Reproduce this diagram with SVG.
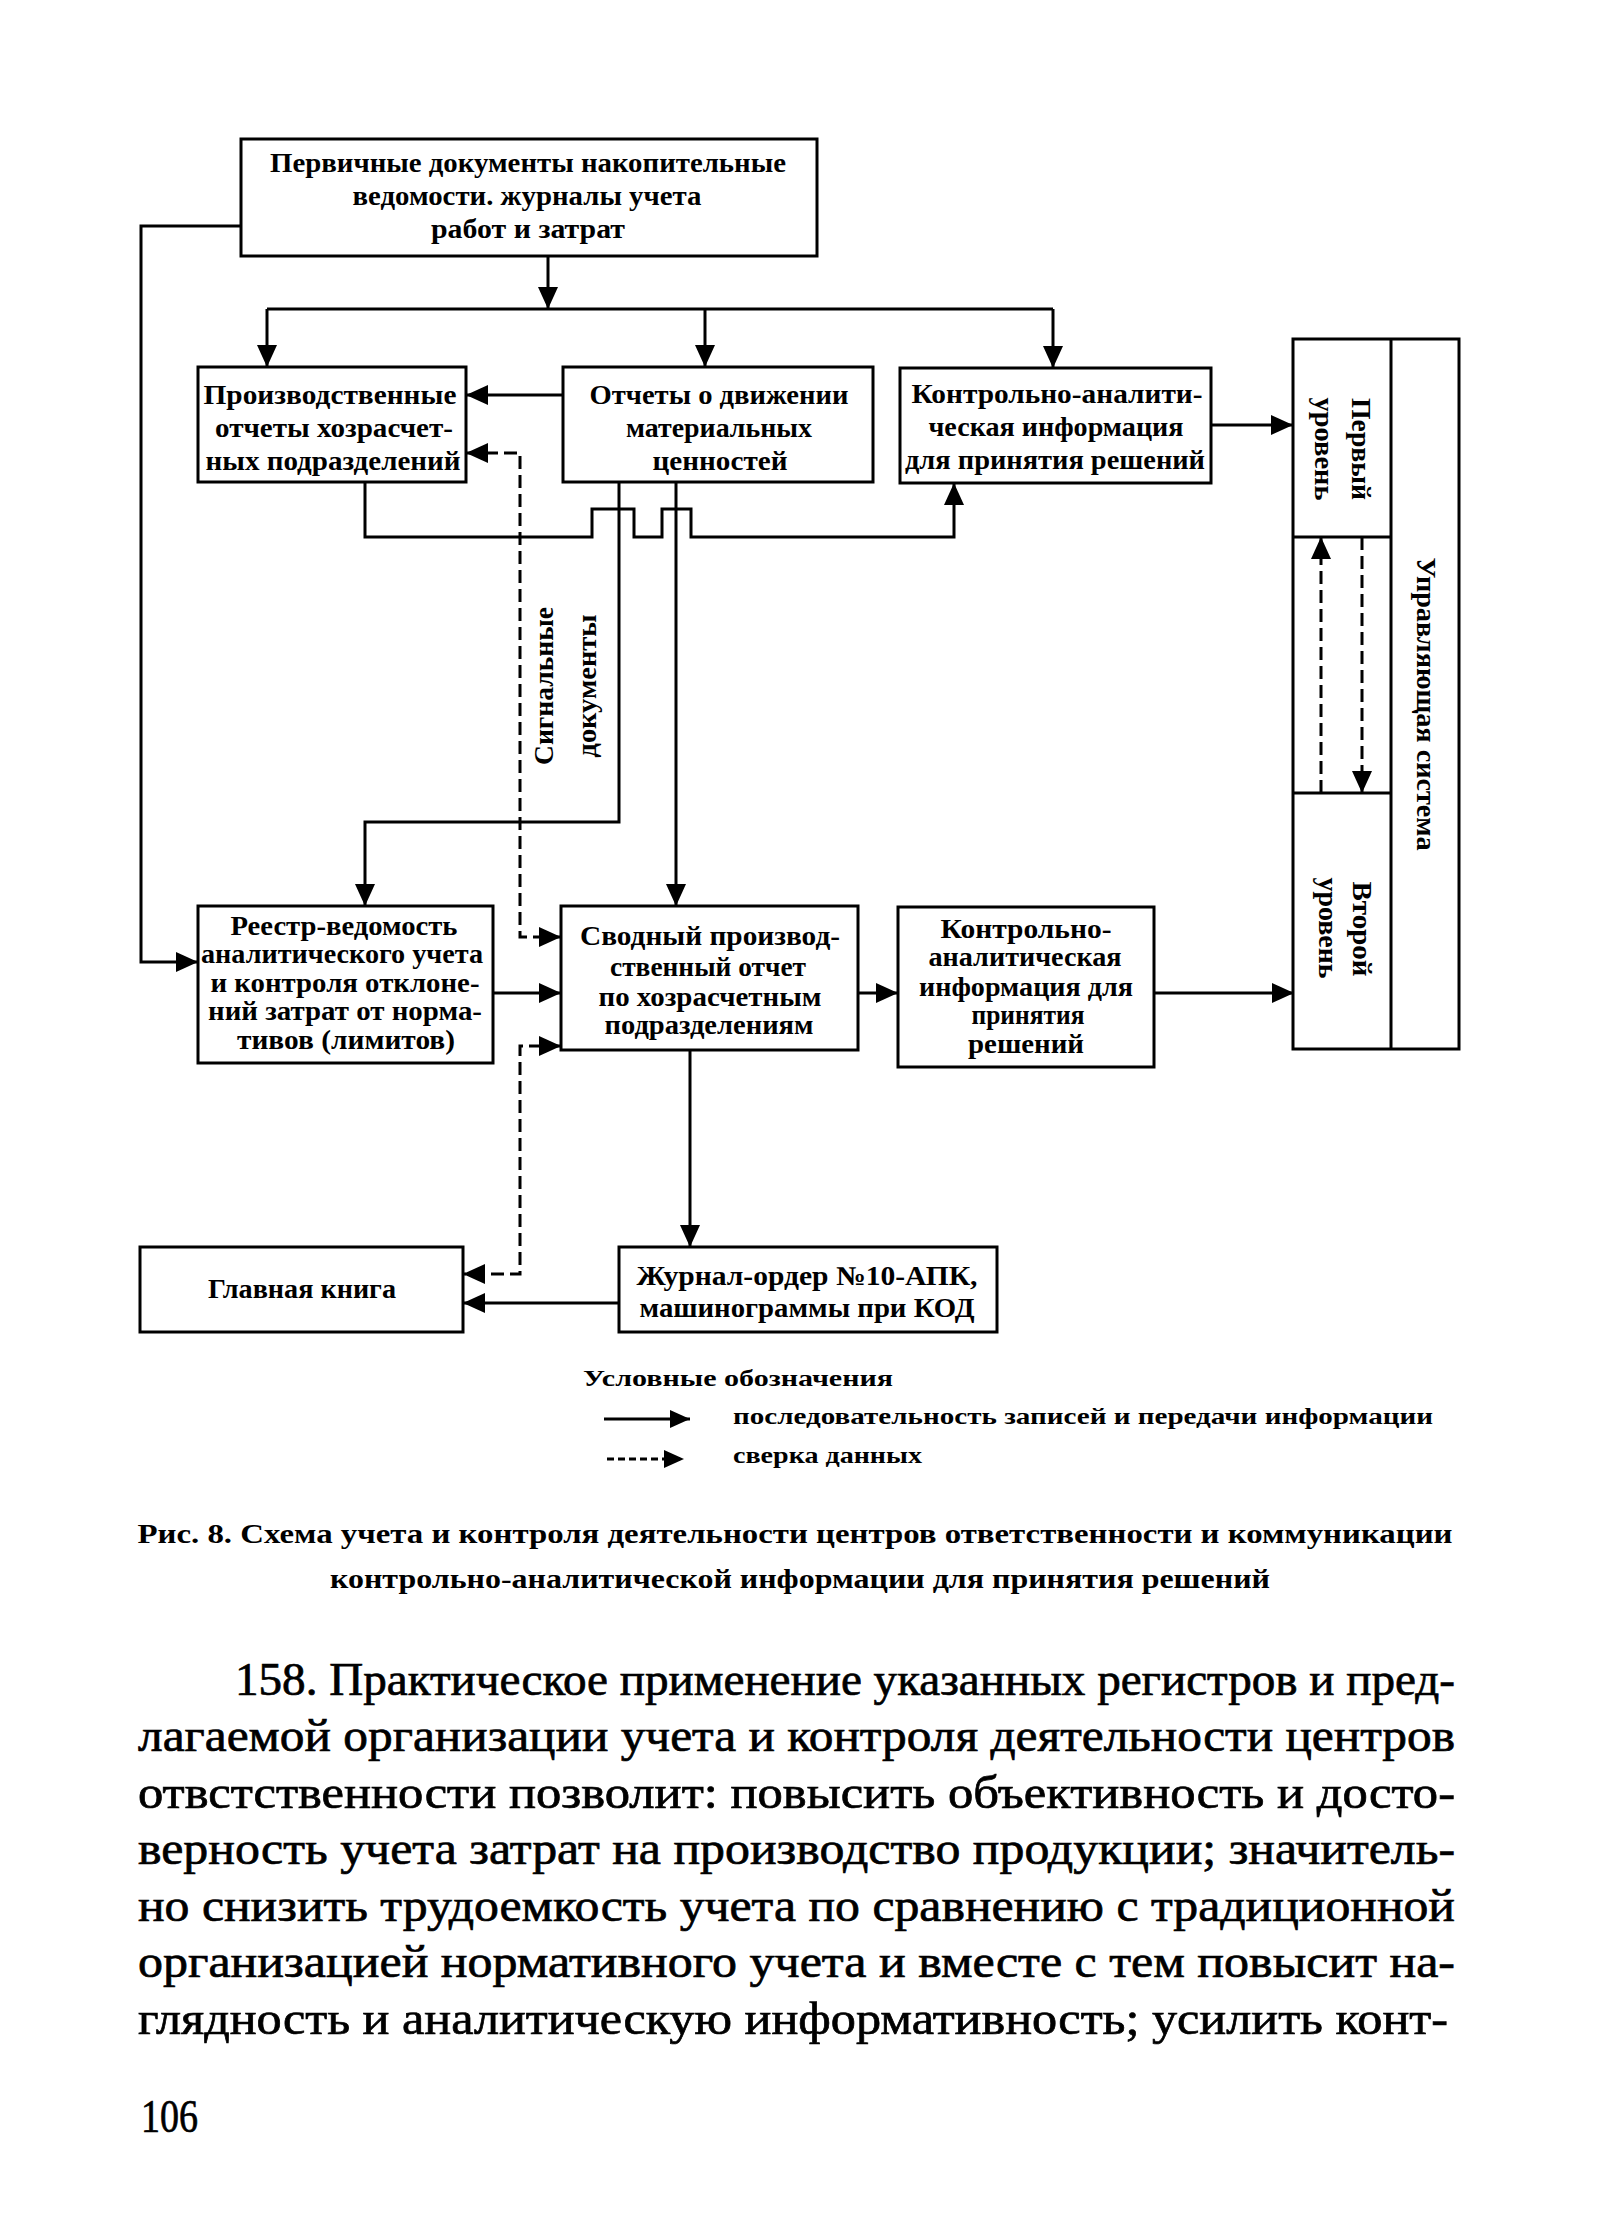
<svg xmlns="http://www.w3.org/2000/svg" width="1597" height="2224" viewBox="0 0 1597 2224">
<style>
.box{fill:none;stroke:#000;stroke-width:3}
.ln{fill:none;stroke:#000;stroke-width:3}
.dash{stroke-dasharray:13 6}
.t{font-family:"Liberation Serif",serif;font-weight:bold;font-size:27px;text-anchor:middle;fill:#000}
.lg{font-family:"Liberation Serif",serif;font-weight:bold;font-size:24px;fill:#000}
.cap{font-family:"Liberation Serif",serif;font-weight:bold;font-size:27px;text-anchor:middle;fill:#000}
.body{font-family:"Liberation Serif",serif;font-size:46px;fill:#000;stroke:#000;stroke-width:0.7}
</style>
<defs>
<marker id="ah" markerUnits="userSpaceOnUse" markerWidth="22" markerHeight="20" refX="22" refY="10" orient="auto-start-reverse" viewBox="0 0 22 20">
<path d="M0,0 L22,10 L0,20 z" fill="#000"/>
</marker>
<marker id="ahs" markerUnits="userSpaceOnUse" markerWidth="20" markerHeight="18" refX="20" refY="9" orient="auto" viewBox="0 0 20 18">
<path d="M0,0 L20,9 L0,18 z" fill="#000"/>
</marker>
</defs>
<rect x="0" y="0" width="1597" height="2224" fill="#fff"/>

<g id="connectors">
<path class="ln" d="M241,226 H141 V962 H198" marker-end="url(#ah)"/>
<path class="ln" d="M548,256 V309" marker-end="url(#ah)"/>
<path class="ln" d="M267,309 H1053"/>
<path class="ln" d="M267,309 V367" marker-end="url(#ah)"/>
<path class="ln" d="M705,309 V367" marker-end="url(#ah)"/>
<path class="ln" d="M1053,309 V368" marker-end="url(#ah)"/>
<path class="ln" d="M563,395 H466" marker-end="url(#ah)"/>
<path class="ln dash" d="M466,453 H520 V937 H561" marker-start="url(#ah)" marker-end="url(#ah)"/>
<path class="ln" d="M365,483 V537 H592 V509 H634 V537 H662 V509 H691 V537 H954 V483" marker-end="url(#ah)"/>
<path class="ln" d="M619,483 V822 H365 V906" marker-end="url(#ah)"/>
<path class="ln" d="M676,483 V906" marker-end="url(#ah)"/>
<path class="ln" d="M1211,425 H1293" marker-end="url(#ah)"/>
<path class="ln dash" d="M1321,793 V537" marker-end="url(#ah)"/>
<path class="ln dash" d="M1362,537 V793" marker-end="url(#ah)"/>
<path class="ln" d="M493,993 H561" marker-end="url(#ah)"/>
<path class="ln" d="M858,993 H898" marker-end="url(#ah)"/>
<path class="ln" d="M1154,993 H1294" marker-end="url(#ah)"/>
<path class="ln dash" d="M561,1046 H520 V1274 H463" marker-start="url(#ah)" marker-end="url(#ah)"/>
<path class="ln" d="M690,1050 V1247" marker-end="url(#ah)"/>
<path class="ln" d="M619,1303 H463" marker-end="url(#ah)"/>
</g>

<g id="n-primary">
<rect class="box" x="241" y="139" width="576" height="117"/>
<text class="t" x="528" y="172" textLength="516" lengthAdjust="spacingAndGlyphs">Первичные документы  накопительные</text>
<text class="t" x="527" y="205" textLength="349" lengthAdjust="spacingAndGlyphs">ведомости. журналы учета</text>
<text class="t" x="528" y="238" textLength="194" lengthAdjust="spacingAndGlyphs">работ и затрат</text>
</g>

<g id="n-proizv">
<rect class="box" x="198" y="367" width="268" height="115"/>
<text class="t" x="330" y="404" textLength="253" lengthAdjust="spacingAndGlyphs">Производственные</text>
<text class="t" x="334" y="437" textLength="238" lengthAdjust="spacingAndGlyphs">отчеты хозрасчет-</text>
<text class="t" x="333" y="470" textLength="255" lengthAdjust="spacingAndGlyphs">ных подразделений</text>
</g>

<g id="n-otchety">
<rect class="box" x="563" y="367" width="310" height="115"/>
<text class="t" x="719" y="404" textLength="259" lengthAdjust="spacingAndGlyphs">Отчеты о движении</text>
<text class="t" x="719" y="437" textLength="186" lengthAdjust="spacingAndGlyphs">материальных</text>
<text class="t" x="720" y="470" textLength="135" lengthAdjust="spacingAndGlyphs">ценностей</text>
</g>

<g id="n-kontr1">
<rect class="box" x="900" y="368" width="311" height="115"/>
<text class="t" x="1057" y="403" textLength="291" lengthAdjust="spacingAndGlyphs">Контрольно-аналити-</text>
<text class="t" x="1056" y="436" textLength="255" lengthAdjust="spacingAndGlyphs">ческая информация</text>
<text class="t" x="1055" y="469" textLength="300" lengthAdjust="spacingAndGlyphs">для принятия решений</text>
</g>

<g id="n-upravl">
<rect class="box" x="1293" y="339" width="166" height="710"/>
<line class="ln" x1="1391" y1="339" x2="1391" y2="1049"/>
<line class="ln" x1="1293" y1="537" x2="1391" y2="537"/>
<line class="ln" x1="1293" y1="793" x2="1391" y2="793"/>
<text class="t" transform="translate(1362,449) rotate(90)" x="0" y="10" textLength="102" lengthAdjust="spacingAndGlyphs">Первый</text>
<text class="t" transform="translate(1325,449) rotate(90)" x="0" y="10" textLength="103" lengthAdjust="spacingAndGlyphs">уровень</text>
<text class="t" transform="translate(1363,929) rotate(90)" x="0" y="10" textLength="95" lengthAdjust="spacingAndGlyphs">Второй</text>
<text class="t" transform="translate(1329,928) rotate(90)" x="0" y="10" textLength="101" lengthAdjust="spacingAndGlyphs">уровень</text>
<text class="t" transform="translate(1427,704) rotate(90)" x="0" y="10" textLength="293" lengthAdjust="spacingAndGlyphs">Управляющая система</text>
</g>

<g id="lbl-signal">
<text class="t" transform="translate(543,686) rotate(-90)" x="0" y="10" textLength="158" lengthAdjust="spacingAndGlyphs">Сигнальные</text>
<text class="t" transform="translate(586,686) rotate(-90)" x="0" y="10" textLength="143" lengthAdjust="spacingAndGlyphs">документы</text>
</g>

<g id="n-reestr">
<rect class="box" x="198" y="906" width="295" height="157"/>
<text class="t" x="344" y="935" textLength="227" lengthAdjust="spacingAndGlyphs">Реестр-ведомость</text>
<text class="t" x="342" y="963" textLength="282" lengthAdjust="spacingAndGlyphs">аналитического учета</text>
<text class="t" x="345" y="992" textLength="269" lengthAdjust="spacingAndGlyphs">и контроля отклоне-</text>
<text class="t" x="345" y="1020" textLength="274" lengthAdjust="spacingAndGlyphs">ний затрат от норма-</text>
<text class="t" x="346" y="1049" textLength="218" lengthAdjust="spacingAndGlyphs">тивов (лимитов)</text>
</g>

<g id="n-svodny">
<rect class="box" x="561" y="906" width="297" height="144"/>
<text class="t" x="710" y="945" textLength="260" lengthAdjust="spacingAndGlyphs">Сводный производ-</text>
<text class="t" x="708" y="976" textLength="196" lengthAdjust="spacingAndGlyphs">ственный отчет</text>
<text class="t" x="710" y="1006" textLength="223" lengthAdjust="spacingAndGlyphs">по хозрасчетным</text>
<text class="t" x="709" y="1034" textLength="209" lengthAdjust="spacingAndGlyphs">подразделениям</text>
</g>

<g id="n-kontr2">
<rect class="box" x="898" y="907" width="256" height="160"/>
<text class="t" x="1026" y="938" textLength="171" lengthAdjust="spacingAndGlyphs">Контрольно-</text>
<text class="t" x="1025" y="966" textLength="193" lengthAdjust="spacingAndGlyphs">аналитическая</text>
<text class="t" x="1026" y="996" textLength="214" lengthAdjust="spacingAndGlyphs">информация для</text>
<text class="t" x="1028" y="1024" textLength="113" lengthAdjust="spacingAndGlyphs">принятия</text>
<text class="t" x="1026" y="1053" textLength="116" lengthAdjust="spacingAndGlyphs">решений</text>
</g>

<g id="n-glavnaya">
<rect class="box" x="140" y="1247" width="323" height="85"/>
<text class="t" x="302" y="1298" textLength="188" lengthAdjust="spacingAndGlyphs">Главная книга</text>
</g>

<g id="n-zhurnal">
<rect class="box" x="619" y="1247" width="378" height="85"/>
<text class="t" x="807" y="1285" textLength="341" lengthAdjust="spacingAndGlyphs">Журнал-ордер №10-АПК,</text>
<text class="t" x="807" y="1317" textLength="335" lengthAdjust="spacingAndGlyphs">машинограммы при КОД</text>
</g>

<g id="legend">
<text class="lg" x="583" y="1386" textLength="310" lengthAdjust="spacingAndGlyphs">Условные обозначения</text>
<path class="ln" d="M604,1419 H690" marker-end="url(#ahs)"/>
<text class="lg" x="733" y="1424" textLength="700" lengthAdjust="spacingAndGlyphs">последовательность записей и передачи информации</text>
<path class="ln" d="M607,1459 H684" style="stroke-dasharray:7 4" marker-end="url(#ahs)"/>
<text class="lg" x="733" y="1463" textLength="189" lengthAdjust="spacingAndGlyphs">сверка данных</text>
</g>

<g id="caption">
<text class="cap" x="795" y="1543" textLength="1315" lengthAdjust="spacingAndGlyphs">Рис. 8. Схема  учета и контроля деятельности  центров ответственности и коммуникации</text>
<text class="cap" x="800" y="1588" textLength="940" lengthAdjust="spacingAndGlyphs">контрольно-аналитической информации для принятия решений</text>
</g>

<g id="body">
<text class="body" x="235" y="1695" textLength="1220" lengthAdjust="spacingAndGlyphs">158. Практическое применение указанных регистров и пред-</text>
<text class="body" x="138" y="1751" textLength="1317" lengthAdjust="spacingAndGlyphs">лагаемой организации учета и контроля деятельности центров</text>
<text class="body" x="138" y="1808" textLength="1317" lengthAdjust="spacingAndGlyphs">отвстственности позволит: повысить объективность и  досто-</text>
<text class="body" x="138" y="1864" textLength="1317" lengthAdjust="spacingAndGlyphs">верность учета затрат на производство продукции; значитель-</text>
<text class="body" x="138" y="1921" textLength="1317" lengthAdjust="spacingAndGlyphs">но снизить трудоемкость учета по сравнению с традиционной</text>
<text class="body" x="138" y="1977" textLength="1317" lengthAdjust="spacingAndGlyphs">организацией нормативного учета и вместе с тем повысит на-</text>
<text class="body" x="138" y="2034" textLength="1310" lengthAdjust="spacingAndGlyphs">глядность и аналитическую информативность; усилить конт-</text>
<text class="body" x="141" y="2132" font-size="40" textLength="57" lengthAdjust="spacingAndGlyphs">106</text>
</g>
</svg>
